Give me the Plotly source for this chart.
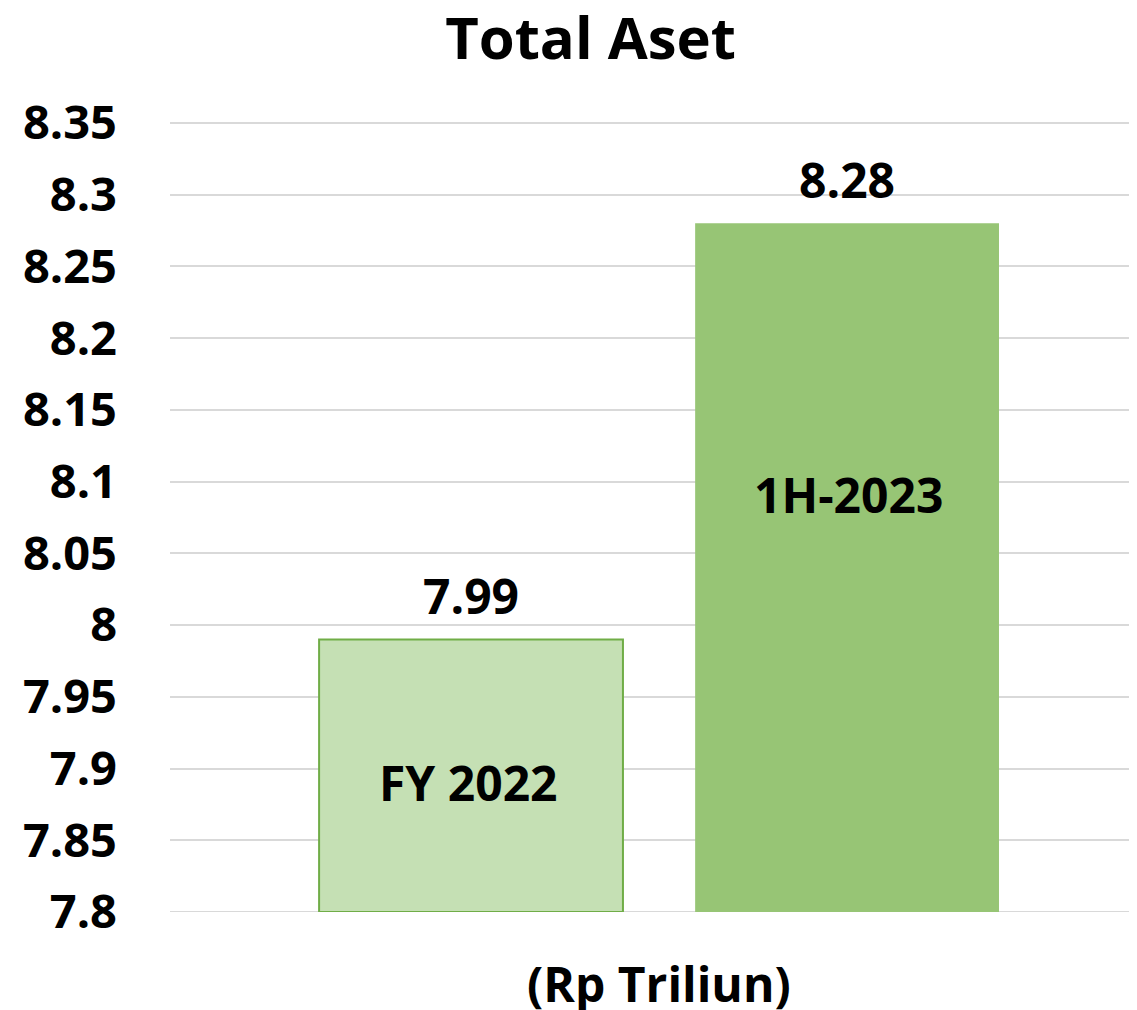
import plotly.graph_objects as go

categories = ["FY 2022", "1H-2023"]
values = [7.99, 8.28]
value_labels = ["7.99", "8.28"]
tick_vals = [7.8, 7.85, 7.9, 7.95, 8.0, 8.05, 8.1, 8.15, 8.2, 8.25, 8.3, 8.35]
tick_text = ["7.8", "7.85", "7.9", "7.95", "8", "8.05", "8.1", "8.15", "8.2", "8.25", "8.3", "8.35"]
axis_title = "(Rp Triliun)"
chart_title = "Total Aset"

fill_colors = ["#C5E0B4", "#97C575"]
line_colors = ["#70AD47", "rgba(0,0,0,0)"]
cat_label_y = [7.89, 8.091]
cat_label_xshift = [-3, 1]
BASE = 7.8

xpos = list(range(len(categories)))
FONT = "Open Sans"

fig = go.Figure()
fig.add_trace(go.Bar(
    x=xpos, y=[v - BASE for v in values], base=BASE,
    width=0.808,
    marker=dict(color=fill_colors, line=dict(color=line_colors, width=2)),
    hoverinfo="skip",
))

for i, (v, lab) in enumerate(zip(values, value_labels)):
    fig.add_annotation(x=xpos[i], y=v, text=f"<b>{lab}</b>", showarrow=False,
                       yanchor="bottom", yshift=9,
                       font=dict(family=FONT, size=48, color="#000"))
    fig.add_annotation(x=xpos[i], y=cat_label_y[i], text=f"<b>{categories[i]}</b>", showarrow=False,
                       yanchor="middle", xshift=cat_label_xshift[i],
                       font=dict(family=FONT, size=48, color="#000"))

fig.add_annotation(xref="paper", yref="paper", x=0.5052, y=0, text=f"<b>{axis_title}</b>",
                   showarrow=False, yanchor="middle", yshift=-71,
                   font=dict(family=FONT, size=48, color="#000"))

# the page body adds an 8px offset, so the figure is sized to fit the window
fig.update_layout(
    width=1129, height=1002,
    margin=dict(l=162, r=0, t=112, b=98),
    paper_bgcolor="white", plot_bgcolor="white",
    showlegend=False,
    title=dict(text=f"<b>{chart_title}</b>", x=0.516, xanchor="center", y=0.969, yanchor="middle",
               font=dict(family=FONT, size=58, color="#000")),
    xaxis=dict(range=[-0.8005, 1.771], showticklabels=False, showgrid=False, zeroline=False,
               automargin=False, ticks=""),
    yaxis=dict(range=[7.8, 8.352], tickvals=tick_vals, ticktext=tick_text,
               showgrid=True, gridcolor="#D9D9D9", gridwidth=2, zeroline=False,
               automargin=False, ticks="", ticklabelstandoff=52,
               tickfont=dict(family=FONT, size=47, color="#000", weight="bold")),
)
fig.add_shape(type="line", xref="paper", yref="y", x0=0, x1=1, y0=7.8, y1=7.8,
              line=dict(color="#D9D9D9", width=2), layer="below")

fig.write_html("out.html")
